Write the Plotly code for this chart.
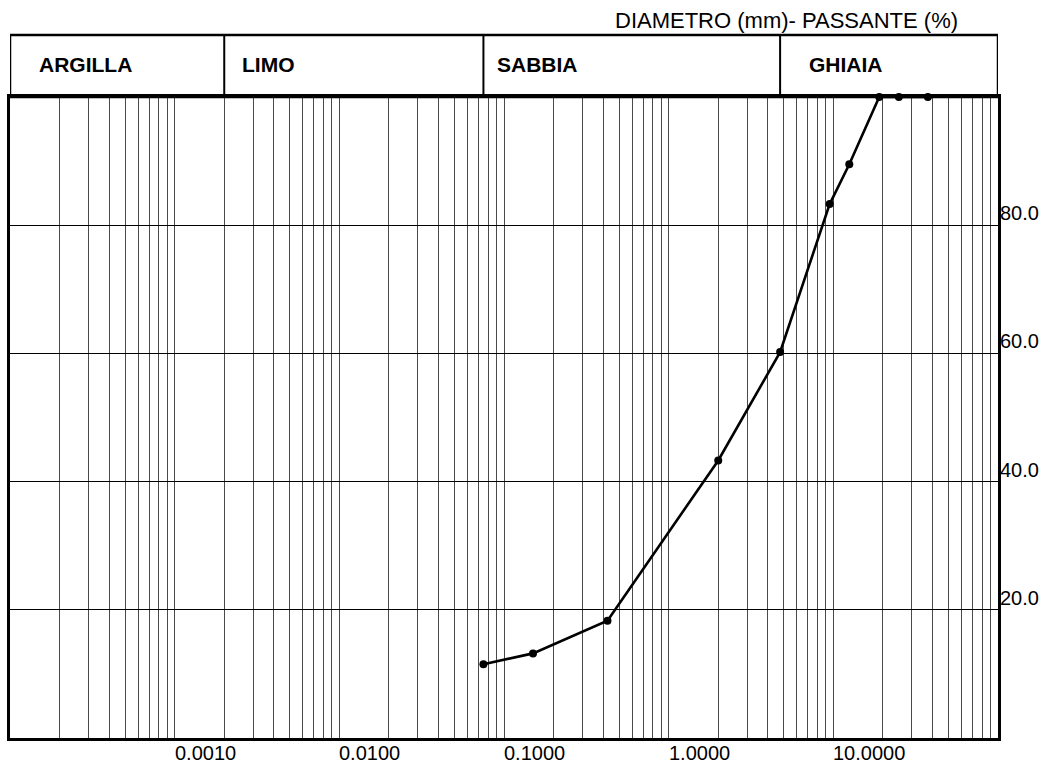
import math
import plotly.graph_objects as go

# ── Grain size data (sieve diameter in mm vs % passing) ─────────
DIAMETRO_MM = [0.075, 0.15, 0.425, 2.0, 4.75, 9.5, 12.5, 19.0, 25.0, 37.5]
PASSANTE_PCT = [11.5, 13.2, 18.3, 43.3, 60.2, 83.3, 89.5, 100.0, 100.0, 100.0]

# soil classes and their boundaries (mm)
CLASSI = ["ARGILLA", "LIMO", "SABBIA", "GHIAIA"]
LIMITI_CLASSI = [0.0001, 0.002, 0.075, 4.75, 100.0]

# labelled decades on the x axis
DECADI_ETICHETTATE = [0.001, 0.01, 0.1, 1.0, 10.0]
Y_TICKS = [20, 40, 60, 80]

FONT = "Arial, 'Liberation Sans', sans-serif"
HEADER_H = 62 / 640  # header height in paper units
LABEL_PAD = [27, 16, 12, 27]

# grid at 1..9 x every decade from 1e-4 to 1e2
grid_vals = [m * 10.0 ** k for k in range(-4, 2) for m in range(1, 10)] + [100.0]

fig = go.Figure()

fig.add_trace(go.Scatter(
    x=DIAMETRO_MM,
    y=PASSANTE_PCT,
    mode="lines+markers",
    line=dict(color="black", width=2.6),
    marker=dict(color="black", size=8),
    showlegend=False,
    cliponaxis=False,
))

# header box with soil classes
shapes = [dict(
    type="rect", xref="x", yref="paper",
    x0=LIMITI_CLASSI[0], x1=LIMITI_CLASSI[-1], y0=1, y1=1 + HEADER_H,
    line=dict(color="black", width=2.5),
)]
for lim in LIMITI_CLASSI[1:-1]:
    shapes.append(dict(
        type="line", xref="x", yref="paper",
        x0=lim, x1=lim, y0=1, y1=1 + HEADER_H,
        line=dict(color="black", width=2),
    ))

annotations = []
for name, lim, pad in zip(CLASSI, LIMITI_CLASSI[:-1], LABEL_PAD):
    annotations.append(dict(
        text=f"<b>{name}</b>", x=math.log10(lim), y=1 + HEADER_H * 0.52,
        xref="x", yref="paper", xanchor="left", yanchor="middle",
        xshift=pad, showarrow=False,
        font=dict(family=FONT, size=21, color="black"),
    ))

annotations.append(dict(
    text="DIAMETRO (mm)- PASSANTE (%)", x=1, y=1 + 76 / 640,
    xref="paper", yref="paper", xanchor="right", yanchor="middle",
    xshift=-38, showarrow=False,
    font=dict(family=FONT, size=22, color="black"),
))

# x labels sit just right of their decade line, under the frame
for d in DECADI_ETICHETTATE:
    annotations.append(dict(
        text=f"{d:.4f}", x=math.log10(d), y=0,
        xref="x", yref="paper", xanchor="left", yanchor="top",
        xshift=-1, yshift=-3, showarrow=False, borderpad=0,
        font=dict(family=FONT, size=20, color="black"),
    ))

# y labels sit just above their grid line, right of the frame
for v in Y_TICKS:
    annotations.append(dict(
        text=f"{v:.1f}", x=1, y=v,
        xref="paper", yref="y", xanchor="left", yanchor="bottom",
        xshift=0, yshift=-1, showarrow=False,
        font=dict(family=FONT, size=20, color="black"),
    ))

fig.update_layout(
    width=1043,
    height=762,
    margin=dict(l=10, r=45, t=97, b=24),
    paper_bgcolor="white",
    plot_bgcolor="white",
    font=dict(family=FONT, size=20, color="black"),
    shapes=shapes,
    annotations=annotations,
    hovermode=False,
    xaxis=dict(
        type="log",
        range=[-4, 2],
        automargin=False,
        tickmode="array",
        tickvals=grid_vals,
        showticklabels=False,
        ticks="",
        showgrid=True,
        gridcolor="#4a4a4a",
        gridwidth=1,
        showline=True,
        linecolor="black",
        linewidth=3,
        mirror=True,
        zeroline=False,
    ),
    yaxis=dict(
        range=[0, 100],
        side="right",
        automargin=False,
        tickmode="array",
        tickvals=Y_TICKS,
        showticklabels=False,
        ticks="",
        showgrid=True,
        gridcolor="black",
        gridwidth=1,
        showline=True,
        linecolor="black",
        linewidth=3,
        mirror=True,
        zeroline=False,
    ),
)

# drop the default 8px page margin so the figure fills the window exactly
fig.write_html(
    "out.html",
    config={"displayModeBar": False},
    post_script="document.body.style.margin='0';",
)
